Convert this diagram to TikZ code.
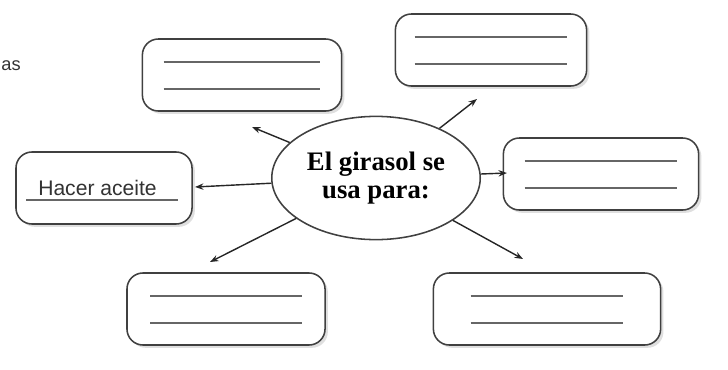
\documentclass[tikz,border=0pt]{standalone}
\usepackage{fontspec}
\setmainfont{Liberation Serif}
\setsansfont{Liberation Sans}
\usetikzlibrary{shapes.geometric,shadows,arrows.meta}

\tikzset{
  blankbox/.style={rectangle, draw=black!75, line width=1.1pt, rounded corners=0.4cm,
    fill=white, minimum height=1.8cm, drop shadow={shadow xshift=2pt, shadow yshift=-2pt, opacity=.25}},
  writeline/.style={draw=black!60, line width=1.1pt},
  arr/.style={-{Stealth[length=6pt,width=4.5pt]}, draw=black!85, line width=1pt}
}

\begin{document}
\begin{tikzpicture}[x=0.025cm, y=-0.025cm]
  \useasboundingbox (0,0) rectangle (728,369);
  % word at the left edge
  \node[anchor=east, inner sep=0pt, font=\sffamily\fontsize{13pt}{15pt}\selectfont, text=black!80] (cut) at (21,66) {as};

  % centre
  \node[ellipse, draw=black!75, line width=1.1pt, fill=white, minimum width=4.8cm, minimum height=3.08cm,
        align=center, font=\bfseries\fontsize{19pt}{20pt}\selectfont] (sun) at (376,178) {El girasol se\\usa para:};

  % answer boxes
  \node[blankbox, minimum width=4.98cm] (tl) at (242,75) {};
  \node[blankbox, minimum width=4.78cm] (tr) at (491,50) {};
  \node[blankbox, minimum width=4.40cm] (lf) at (104,188) {};
  \node[blankbox, minimum width=4.88cm] (rt) at (601,174) {};
  \node[blankbox, minimum width=4.95cm] (bl) at (226,309) {};
  \node[blankbox, minimum width=5.68cm] (br) at (547,309) {};

  % blank lines to write on
  \foreach \b/\i in {tl/22,tr/20,rt/22,bl/24,br/38} {
    \draw[writeline] ([shift={(\i,24)}]\b.north west) -- ([shift={(-\i,24)}]\b.north east);
    \draw[writeline] ([shift={(\i,-23)}]\b.south west) -- ([shift={(-\i,-23)}]\b.south east);
  }

  % the filled-in answer
  \node[font=\sffamily\fontsize{15pt}{17pt}\selectfont, text=black!80, inner sep=0pt, anchor=base west] (oil) at (38,195) {Hacer aceite};
  \draw[writeline] ([shift={(11,12)}]lf.west) -- ([shift={(-15,12)}]lf.east);

  % arrow tips
  \coordinate (ptl) at (252,127);
  \coordinate (ptr) at (477,99);
  \coordinate (plf) at (195,187);
  \coordinate (prt) at (507,173);
  \coordinate (pbl) at (210,262);
  \coordinate (pbr) at (523,259);
  \foreach \p in {ptl,ptr,plf,prt,pbl,pbr}
    \draw[arr] (sun) -- (\p);
\end{tikzpicture}
\end{document}
